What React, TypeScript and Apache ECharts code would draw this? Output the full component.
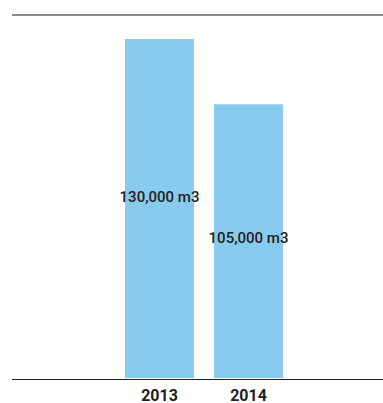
import React, { useEffect, useRef } from "react";
import * as echarts from "echarts";

const categories = ["2013", "2014"];
const values = [130000, 105000];
const valueLabels = ["130,000 m3", "105,000 m3"];

export default function App() {
  const ref = useRef<HTMLDivElement>(null);
  useEffect(() => {
    if (!ref.current) return;
    const chart = echarts.init(ref.current, null, { renderer: "svg" });
    chart.setOption({
      animation: false,
      grid: { left: 115, right: 90, top: 39, bottom: 24 },
      xAxis: {
        type: "category",
        data: categories,
        axisLine: { show: false },
        axisTick: { show: false },
        axisLabel: {
          margin: 9,
          fontFamily: "Roboto",
          fontWeight: "bold",
          fontSize: 16,
          color: "#222",
        },
      },
      yAxis: {
        type: "value",
        min: 0,
        max: 130000,
        show: false,
        splitLine: { show: false },
      },
      series: [
        {
          type: "bar",
          barWidth: 69,
          itemStyle: { color: "#89CBEE" },
          data: values.map((v, i) => ({
            value: v,
            label: {
              show: true,
              position: "inside",
              offset: i === 0 ? [0, -12] : [0, -3],
              formatter: valueLabels[i],
              fontFamily: "Roboto",
              fontWeight: 500,
              fontSize: 15,
              color: "#222",
            },
          })),
        },
      ],
      graphic: [
        {
          type: "line",
          shape: { x1: 12, y1: 15, x2: 383, y2: 15 },
          style: { stroke: "#8a8a8a", lineWidth: 2 },
        },
        {
          type: "line",
          shape: { x1: 12, y1: 379.5, x2: 383, y2: 379.5 },
          style: { stroke: "#222", lineWidth: 1 },
          z: 10,
        },
      ],
    });
    return () => chart.dispose();
  }, []);
  return (
    <div
      ref={ref}
      style={{ width: 383, height: 403, position: "absolute", left: 0, top: 0 }}
    />
  );
}
